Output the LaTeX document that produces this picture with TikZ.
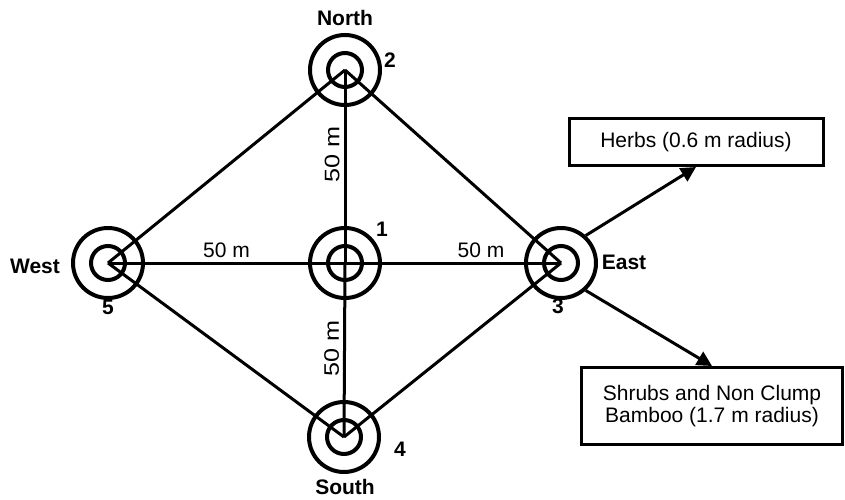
\documentclass[tikz,border=0pt]{standalone}
\usepackage{fontspec}
\setmainfont{Liberation Sans}
\usetikzlibrary{shapes,positioning,arrows.meta}
\tikzset{ring/.style={circle,draw,line width=4pt,minimum size=70pt,inner sep=0pt}}
\tikzset{core/.style={circle,draw,line width=4pt,minimum size=34pt,inner sep=0pt}}
\tikzset{tag/.style={font=\fontsize{21}{24}\selectfont\bfseries,inner sep=0pt}}
\tikzset{dist/.style={font=\fontsize{21}{24}\selectfont,inner sep=4pt}}
\tikzset{box/.style={rectangle,draw,line width=3pt,align=center,font=\fontsize{21}{22}\selectfont}}

\begin{document}
\begin{tikzpicture}[x=1pt,y=-1pt,>={Triangle[length=15pt,width=15pt]},line width=3pt]
        \useasboundingbox (0,0) rectangle (845,500);

        % plot centre and the four corner points
        \node[ring] (a)at (345,263) {};
        \node[ring] (b)at (345,70) {};
        \node[ring] (c)at (561,263) {};
        \node[ring] (d)at (344,437) {};
        \node[ring] (e)at (108,263) {};
        \node[core] (a0)at (a) {};
        \node[core] (b0)at (b) {};
        \node[core] (c0)at (c) {};
        \node[core] (d0)at (d) {};
        \node[core] (e0)at (e) {};

        \node[tag] (n1)at (382,229) {1};
        \node[tag] (n2)at (390,60) {2};
        \node[tag] (n3)at (558,306) {3};
        \node[tag] (n4)at (400,449) {4};
        \node[tag] (n5)at (108,307) {5};
        \node[tag] (north)at (345,18) {North};
        \node[tag] (south)at (345,487) {South};
        \node[tag] (east)at (624,262) {East};
        \node[tag] (west)at (35,266) {West};

        \draw [] (e.center) to []node[dist,above]{50 m} (a.center);
        \draw [] (a.center) to []node[dist,above,pos=0.63]{50 m} (c.center);
        \draw [] (b.center) to []node[dist,rotate=90,xscale=1.2,above,pos=0.44]{50 m} (a.center);
        \draw [] (a.center) to []node[dist,rotate=90,xscale=1.2,above,pos=0.49]{50 m} (d.center);
        \draw [] (e.center) to []node[]{} (b.center);
        \draw [] (b.center) to []node[]{} (c.center);
        \draw [] (c.center) to []node[]{} (d.center);
        \draw [] (d.center) to []node[]{} (e.center);

        % planting radii
        \node[box,minimum width=254pt,minimum height=47pt] (herbs)at (696,142) {Herbs (0.6 m radius)};
        \node[box,minimum width=261pt,minimum height=77pt] (shrubs)at (712,406) {Shrubs and Non Clump\\Bamboo (1.7 m radius)};

        \draw [->] (c.48) to []node[]{} (herbs.south);
        \draw [->] (c.-48) to []node[]{} (shrubs.north);
    \end{tikzpicture}
\end{document}
